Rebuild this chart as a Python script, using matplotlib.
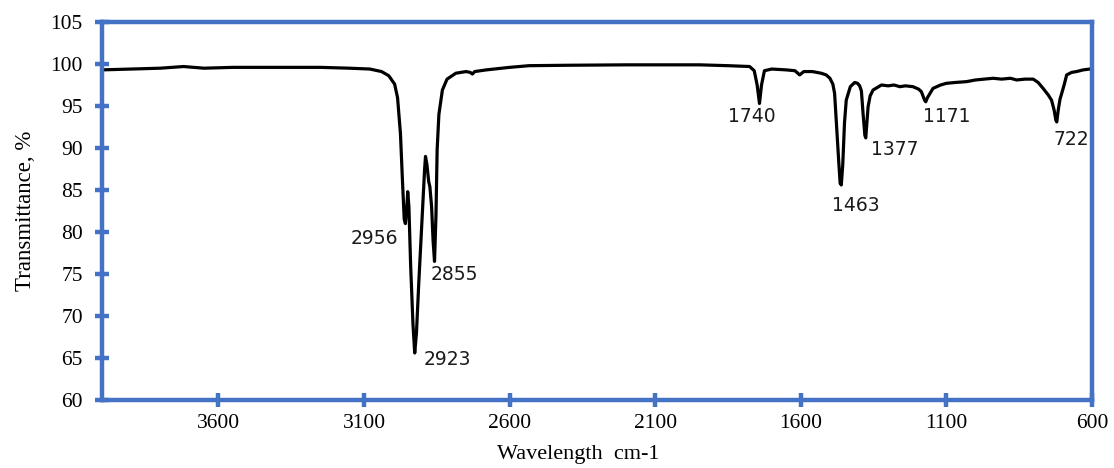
import matplotlib
matplotlib.use('Agg')
import matplotlib.pyplot as plt
import numpy as np

#----------------------------------------------------
# FTIR spectrum points
#----------------------------------------------------
wavenumber = [4000, 3900, 3800, 3720, 3650, 3550, 3400, 3250, 3150, 3080,
              3040, 3015, 2995, 2985, 2975, 2968, 2962, 2958, 2954, 2950,
              2946, 2940, 2932, 2926, 2920, 2912, 2900, 2892, 2889, 2884,
              2878, 2874, 2868, 2863, 2858, 2853, 2849, 2843, 2831, 2815,
              2785, 2750, 2735, 2728, 2720, 2680, 2600, 2533, 2400, 2200,
              2100, 1948, 1850, 1776, 1760, 1750, 1742, 1735, 1725, 1700,
              1650, 1620, 1604, 1590, 1560, 1530, 1513, 1500, 1490, 1484,
              1478, 1470, 1465, 1461, 1456, 1450, 1444, 1430, 1415, 1405,
              1398, 1392, 1386, 1380, 1377, 1373, 1369, 1362, 1352, 1323,
              1300, 1280, 1260, 1240, 1215, 1195, 1186, 1175, 1171, 1165,
              1146, 1120, 1100, 1070, 1031, 1000, 970, 940, 910, 880,
              859, 830, 802, 785, 768, 750, 739, 730, 724, 721,
              716, 710, 704, 695, 687, 670, 653, 630, 607, 600]
transmittance = [99.3, 99.4, 99.5, 99.7, 99.5, 99.6, 99.6, 99.6, 99.5, 99.4,
                 99.1, 98.6, 97.6, 96.0, 91.7, 86.0, 81.5, 81.0, 82.5, 84.8,
                 83.0, 76.0, 69.0, 65.6, 68.0, 74.0, 82.0, 87.5, 89.0, 88.0,
                 86.0, 85.4, 83.0, 79.0, 76.5, 82.0, 89.8, 94.0, 96.9, 98.2,
                 98.9, 99.1, 99.0, 98.8, 99.1, 99.3, 99.6, 99.8, 99.85, 99.9,
                 99.9, 99.9, 99.8, 99.7, 99.2, 97.5, 95.3, 97.5, 99.2, 99.4,
                 99.3, 99.2, 98.7, 99.1, 99.1, 98.9, 98.7, 98.3, 97.6, 96.5,
                 93.0, 88.5, 85.8, 85.6, 88.0, 93.0, 95.7, 97.3, 97.8, 97.7,
                 97.4, 96.8, 94.0, 91.5, 91.2, 93.0, 94.9, 96.2, 96.9, 97.5,
                 97.4, 97.5, 97.3, 97.4, 97.3, 97.0, 96.7, 95.7, 95.5, 96.0,
                 97.1, 97.5, 97.7, 97.8, 97.9, 98.1, 98.2, 98.3, 98.2, 98.3,
                 98.1, 98.2, 98.2, 97.8, 97.1, 96.3, 95.7, 94.5, 93.3, 93.1,
                 94.5, 95.8, 96.5, 97.6, 98.7, 99.0, 99.1, 99.3, 99.4, 99.4]

# Peak labels and where they sit
peak_labels = ['2956', '2923', '2855', '1740', '1463', '1377', '1171', '722']
label_x = [3063, 2814, 2791, 1769, 1412, 1278, 1100, 670]
label_y = [79.2, 64.8, 74.9, 93.7, 83.2, 89.8, 93.7, 91.0]

x_ticks = [3600, 3100, 2600, 2100, 1600, 1100, 600]
y_ticks = [60, 65, 70, 75, 80, 85, 90, 95, 100, 105]

blue = '#4472C4'

#----------------------------------------------------
# Plot
#----------------------------------------------------
fig = plt.figure(figsize=(11.14, 4.68), dpi=100)
ax = fig.add_axes([102/1114, 68/468, 990/1114, 378/468])

ax.plot(wavenumber, transmittance, color='black', linewidth=2.3,
        solid_joinstyle='round', solid_capstyle='round')

for txt, xx, yy in zip(peak_labels, label_x, label_y):
    ax.text(xx, yy, txt, ha='center', va='center', fontsize=13.5,
            family='DejaVu Sans', color='#1a1a1a')

ax.set_xlim(4000, 600)
ax.set_ylim(60, 105)
ax.set_xticks(x_ticks)
ax.set_yticks(y_ticks)

for side in ['left', 'right', 'top', 'bottom']:
    ax.spines[side].set_color(blue)
    ax.spines[side].set_linewidth(3.2)

ax.tick_params(direction='inout', length=9.5, width=3.2, color=blue,
               labelsize=15.5, labelfontfamily='Liberation Serif')
ax.tick_params(axis='x', pad=5)
ax.tick_params(axis='y', pad=9)

ax.set_xlabel('Wavelength  cm-1', fontsize=16, family='Liberation Serif')
ax.set_ylabel('Transmittance, %', fontsize=16.5, family='Liberation Serif')
ax.xaxis.set_label_coords(0.481, -0.118)
ax.yaxis.set_label_coords(-0.067, 0.5)

fig.savefig('out.png', dpi=100)
